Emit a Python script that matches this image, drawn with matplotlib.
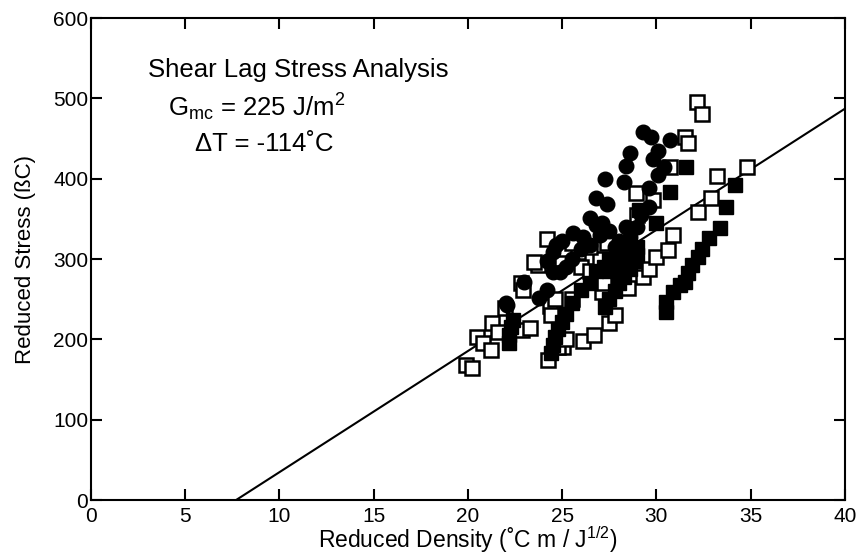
import matplotlib
matplotlib.use("Agg")
import matplotlib.pyplot as plt

plt.rcParams['font.family'] = ['Liberation Sans', 'DejaVu Sans']
plt.rcParams['mathtext.fontset'] = 'custom'
plt.rcParams['mathtext.rm'] = 'Liberation Sans'
plt.rcParams['mathtext.it'] = 'Liberation Sans'

# Filled circles
circ_x = [22.0, 22.1, 23.0, 23.8, 24.2, 24.2, 24.5, 24.9, 24.5, 24.7, 25.0, 25.6, 26.1, 26.5, 27.1,
          26.8, 27.4, 27.3, 28.3, 28.4, 28.6, 29.3, 29.7, 30.7, 30.1, 29.8, 30.4, 30.1, 29.6, 29.6,
          28.4, 28.6, 25.5, 26.0, 26.5, 27.0, 27.5, 28.0, 28.2, 27.6, 27.8, 29.0, 29.2, 25.2, 26.8]
circ_y = [245, 243, 272, 251, 261, 297, 284, 284, 309, 317, 322, 333, 328, 351, 345,
          376, 369, 400, 396, 416, 432, 458, 452, 448, 434, 425, 415, 405, 388, 365,
          340, 328, 300, 312, 318, 330, 335, 322, 310, 300, 315, 340, 355, 290, 342]

# Open squares
osq_x = [19.9, 20.2, 20.5, 20.8, 21.2, 21.3, 21.6, 21.96, 22.8, 22.9, 22.85, 23.3, 23.7, 24.26,
         24.35, 25.05, 24.2, 24.4, 24.6, 25.85, 27.36, 26.1, 26.7, 27.5, 27.8, 27.1, 28.5, 29.3,
         29.6, 30.0, 30.6, 30.9, 32.2, 32.9, 33.2, 34.8, 31.5, 31.7, 32.16, 32.4, 28.9, 29.8,
         30.7, 25.5, 26.0, 26.5, 27.5, 28.0, 28.5, 28.0, 27.0, 25.0, 25.5, 26.5, 27.2, 24.8,
         25.2, 23.5, 29.0]
osq_y = [168, 164, 203, 195, 187, 220, 209, 239, 270, 261, 212, 214, 293, 174,
         241, 191, 325, 230, 250, 309, 320, 198, 206, 220, 230, 259, 264, 278,
         287, 303, 311, 330, 359, 376, 403, 414, 452, 445, 495, 481, 382, 374,
         415, 250, 290, 285, 275, 285, 300, 310, 300, 295, 320, 315, 270, 190,
         200, 296, 355]

# Filled squares
fsq_x = [22.2, 22.2, 22.3, 22.4, 24.4, 24.5, 24.6, 24.8, 25.0, 25.2, 25.5, 26.0, 26.5, 26.8,
         27.2, 27.5, 28.0, 28.3, 28.5, 27.3, 27.5, 27.8, 28.0, 28.3, 28.6, 28.8, 29.0, 29.1,
         30.0, 30.7, 31.6, 27.5, 28.0, 29.0, 30.5, 30.5, 30.9, 31.25, 31.5, 31.7, 31.9, 32.2,
         32.4, 32.8, 33.4, 33.7, 34.2]
fsq_y = [195, 205, 215, 224, 183, 193, 203, 213, 222, 232, 245, 262, 270, 285,
         290, 300, 305, 315, 320, 240, 250, 260, 270, 278, 288, 298, 305, 361,
         345, 384, 414, 285, 290, 315, 234, 247, 259, 268, 272, 282, 292, 303,
         313, 326, 339, 365, 392]

# Shear-lag prediction line
fit_x = [7.7, 40.0]
fit_y = [0.0, 487.0]

x_ticks = [0, 5, 10, 15, 20, 25, 30, 35, 40]
y_ticks = [0, 100, 200, 300, 400, 500, 600]

fig = plt.figure(figsize=(8.62, 5.56), dpi=100)
ax = fig.add_axes([0.1056, 0.1007, 0.8744, 0.8669])

ax.plot(fit_x, fit_y, color='black', lw=1.5, zorder=1)
ms = 9.5
ax.plot(osq_x, osq_y, ls='none', marker='s', ms=ms, mfc='white', mec='black', mew=1.8, zorder=2)
ax.plot(fsq_x, fsq_y, ls='none', marker='s', ms=ms, mfc='black', mec='black', mew=1, zorder=3)
ax.plot(circ_x, circ_y, ls='none', marker='o', ms=ms + 1, mfc='black', mec='black', mew=1, zorder=3)

ax.set_xlim(0, 40)
ax.set_ylim(0, 600)
ax.set_xticks(x_ticks)
ax.set_yticks(y_ticks)
ax.tick_params(direction='in', top=True, right=True, length=8, width=1.5, labelsize=15,
               colors='black')
ax.tick_params(axis='x', pad=5)
ax.tick_params(axis='y', pad=2)
for s in ax.spines.values():
    s.set_linewidth(1.5)

ax.set_xlabel(r'Reduced Density (˚C m / J$^{1/2}$)', fontsize=16.5, labelpad=-1)
ax.set_ylabel('Reduced Stress (ßC)', fontsize=16, labelpad=12)

fs = 18.5
ax.text(148 / 862, 1 - 70 / 556, 'Shear Lag Stress Analysis', transform=fig.transFigure,
        fontsize=fs, va='center', ha='left')
ax.text(168 / 862, 1 - 107 / 556, r'G$_{\mathrm{mc}}$ = 225 J/m$^{2}$', transform=fig.transFigure,
        fontsize=fs, va='center', ha='left')
ax.text(195 / 862, 1 - 144 / 556, 'ΔT = -114˚C', transform=fig.transFigure, fontsize=fs,
        va='center', ha='left')

fig.savefig('out.png', dpi=100)
